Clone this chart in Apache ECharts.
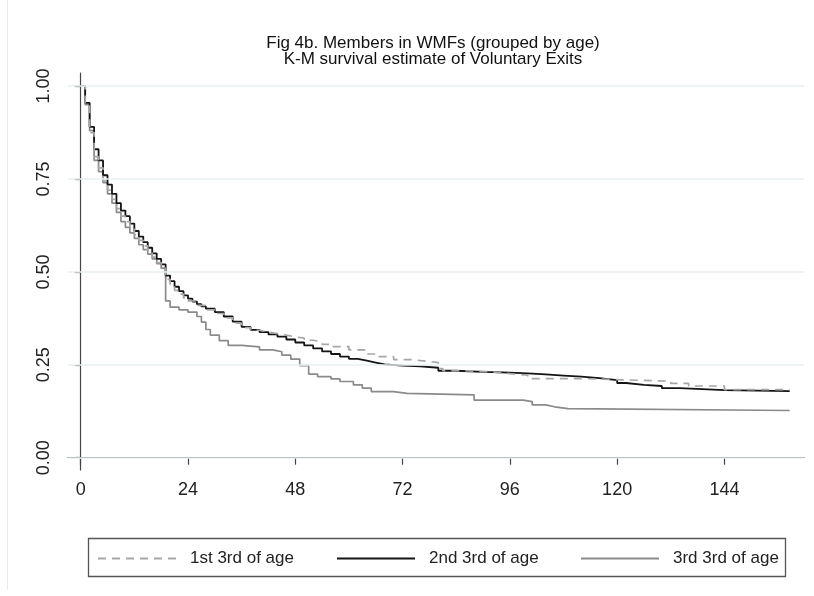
<!DOCTYPE html>
<html>
<head>
<meta charset="utf-8">
<script src="https://cdn.jsdelivr.net/npm/echarts@6/dist/echarts.min.js"></script>
<style>
  html, body { margin: 0; padding: 0; background: #fff; }
  #chart { width: 814px; height: 596px; }
</style>
</head>
<body>
<div id="chart"></div>
<script>
// tick labels
const xTicks = [0, 24, 48, 72, 96, 120, 144];
const yTicks = [0, 0.25, 0.5, 0.75, 1];

// 1st 3rd of age (dashed)
const t1 = [0, 1, 2, 3, 4, 5, 6, 7, 8, 9, 10, 11, 12, 13, 14, 15, 16, 17, 18, 19, 20, 21, 22, 23, 24, 26, 28, 30, 32, 34, 36, 38, 40, 42, 44, 46, 48, 50, 52, 54, 56, 60, 64, 66, 70, 74, 78, 80, 81, 86, 92, 96, 100, 112, 120, 132, 136, 144, 158.6];
const s1 = [1.00, 0.95, 0.875, 0.81, 0.78, 0.745, 0.72, 0.695, 0.67, 0.65, 0.635, 0.617, 0.60, 0.585, 0.57, 0.555, 0.54, 0.525, 0.51, 0.48, 0.462, 0.45, 0.44, 0.43, 0.422, 0.41, 0.398, 0.388, 0.376, 0.362, 0.350, 0.343, 0.338, 0.334, 0.330, 0.325, 0.322, 0.316, 0.312, 0.305, 0.299, 0.290, 0.279, 0.272, 0.264, 0.259, 0.256, 0.240, 0.234, 0.231, 0.226, 0.222, 0.213, 0.210, 0.206, 0.200, 0.193, 0.183, 0.182];

// 2nd 3rd of age (black)
const t2 = [0, 1, 2, 3, 4, 5, 6, 7, 8, 9, 10, 11, 12, 13, 14, 15, 16, 17, 18, 19, 20, 21, 22, 23, 24, 25, 26, 27, 28, 30, 32, 34, 36, 38, 40, 42, 44, 46, 48, 50, 52, 54, 56, 58, 60, 62, 64, 66, 68, 72, 76, 80, 84, 90, 96, 100, 104, 108, 112, 116, 120, 122, 126, 130, 134, 144, 158.6];
const s2 = [1.00, 0.955, 0.89, 0.83, 0.80, 0.76, 0.735, 0.71, 0.685, 0.665, 0.65, 0.63, 0.61, 0.595, 0.58, 0.565, 0.55, 0.535, 0.52, 0.49, 0.475, 0.46, 0.448, 0.437, 0.428, 0.42, 0.413, 0.407, 0.401, 0.392, 0.380, 0.366, 0.352, 0.344, 0.338, 0.332, 0.326, 0.318, 0.310, 0.302, 0.294, 0.286, 0.279, 0.272, 0.266, 0.261, 0.256, 0.251, 0.248, 0.246, 0.242, 0.234, 0.231, 0.229, 0.227, 0.224, 0.221, 0.218, 0.214, 0.209, 0.201, 0.196, 0.193, 0.187, 0.182, 0.179, 0.178];

// 3rd 3rd of age (grey)
const t3 = [0, 1, 2, 3, 4, 5, 6, 7, 8, 9, 10, 11, 12, 13, 14, 15, 16, 17, 18, 19, 20, 22, 24, 26, 27, 28, 29, 31, 33, 36, 40, 43, 45, 47, 49, 51, 53, 56, 58, 61, 63, 65, 70, 73, 88, 99, 101, 104, 106, 109, 158.6];
const s3 = [1.00, 0.95, 0.88, 0.80, 0.77, 0.74, 0.71, 0.685, 0.66, 0.635, 0.62, 0.605, 0.59, 0.573, 0.56, 0.548, 0.535, 0.522, 0.51, 0.422, 0.405, 0.398, 0.392, 0.38, 0.365, 0.345, 0.330, 0.315, 0.302, 0.298, 0.290, 0.285, 0.276, 0.265, 0.248, 0.225, 0.218, 0.212, 0.205, 0.196, 0.187, 0.178, 0.173, 0.169, 0.155, 0.151, 0.142, 0.137, 0.132, 0.127, 0.127];

const names = ['1st 3rd of age', '2nd 3rd of age', '3rd 3rd of age'];

const pairs = (t, s) => t.map((x, i) => [x, s[i]]);
const FONT = '"Liberation Sans", Arial, Helvetica, sans-serif';

const chart = echarts.init(document.getElementById('chart'), null, { renderer: 'canvas' });

// 图例：每项单独放，位置跟原图对齐
function legendAt(name, left) {
  return {
    data: [name],
    left: left,
    top: 550,
    padding: 0,
    itemWidth: 78,
    itemHeight: 10,
    itemGap: 0,
    selectedMode: false,
    // 不要折线图例里的圆点
    itemStyle: { color: 'rgba(0,0,0,0)', borderWidth: 0 },
    textStyle: { fontFamily: FONT, fontSize: 17, color: '#222', padding: [0, 0, 0, 9] }
  };
}

const option = {
  animation: false,
  backgroundColor: '#fff',
  grid: { left: 68, right: 10, top: 73, bottom: 126, containLabel: false },
  xAxis: {
    type: 'value',
    min: -2.84,
    max: 161.8,
    splitLine: { show: false },
    axisLine: { show: true, lineStyle: { color: '#444', width: 1.2 } },
    axisTick: { show: true, length: 7, customValues: xTicks, lineStyle: { color: '#444', width: 1.2 } },
    axisLabel: { customValues: xTicks, margin: 11, fontFamily: FONT, fontSize: 18, color: '#222' }
  },
  yAxis: {
    type: 'value',
    min: -0.0331,
    max: 1.0352,
    splitLine: { show: false },
    axisLine: { show: true, lineStyle: { color: '#444', width: 1.2 } },
    axisTick: { show: true, length: 6, customValues: yTicks, lineStyle: { color: '#444', width: 1.2 } },
    axisLabel: {
      customValues: yTicks, rotate: 90, margin: 15,
      fontFamily: FONT, fontSize: 18, color: '#222',
      formatter: v => v.toFixed(2)
    }
  },
  legend: [
    legendAt(names[0], 97),
    legendAt(names[1], 336),
    legendAt(names[2], 580)
  ],
  graphic: [
    {
      type: 'text', x: 433, y: 51, z: 10,
      style: {
        text: 'Fig 4b. Members in WMFs (grouped by age)\nK-M survival estimate of Voluntary Exits',
        fontFamily: FONT, fontSize: 17, lineHeight: 16, fill: '#111',
        textAlign: 'center', textVerticalAlign: 'middle'
      }
    },
    {
      type: 'rect', z: 1,
      shape: { x: 88.5, y: 538.5, width: 697, height: 38 },
      style: { fill: 'none', stroke: '#555', lineWidth: 1.3 }
    },
    {
      type: 'line', z: 1,
      shape: { x1: 7.5, y1: 0, x2: 7.5, y2: 590 },
      style: { stroke: '#e4eef0', lineWidth: 1 }
    }
  ],
  series: [
    {
      // 网格线
      type: 'line', data: [], z: 1, silent: true,
      markLine: {
        silent: true, symbol: 'none', label: { show: false },
        lineStyle: { color: '#e8f1f2', type: 'solid', width: 1.5 },
        data: yTicks.map(v => ({ yAxis: v }))
      }
    },
    {
      name: names[2], type: 'line', step: 'end', z: 2,
      symbol: 'none', data: pairs(t3, s3),
      lineStyle: { color: '#8a8a8a', width: 1.7 },
      itemStyle: { color: '#8a8a8a' }
    },
    {
      name: names[1], type: 'line', step: 'end', z: 3,
      symbol: 'none', data: pairs(t2, s2),
      lineStyle: { color: '#141414', width: 1.8 },
      itemStyle: { color: '#141414' }
    },
    {
      name: names[0], type: 'line', step: 'end', z: 4,
      symbol: 'none', data: pairs(t1, s1),
      lineStyle: { color: '#a6a6a6', width: 1.7, type: [8, 6] },
      itemStyle: { color: '#a6a6a6' }
    }
  ]
};

chart.setOption(option);
</script>
</body>
</html>
